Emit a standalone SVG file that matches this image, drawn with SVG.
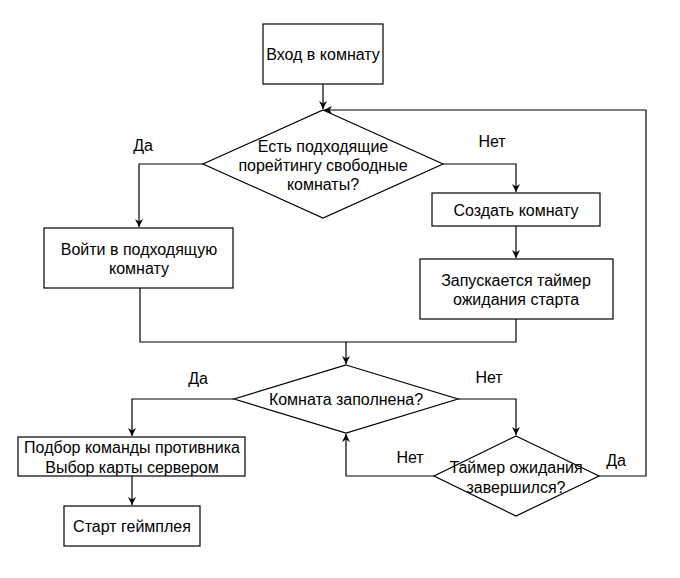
<svg xmlns="http://www.w3.org/2000/svg" width="680" height="578" viewBox="0 0 680 578">
<style>
.n{fill:#fff;stroke:#000;stroke-width:1.2}
.c{fill:none;stroke:#000;stroke-width:1.2}
text{font-family:"Liberation Sans",Arial,sans-serif;font-size:16px;fill:#000;text-anchor:middle;dominant-baseline:central}
</style>
<defs>
<marker id="a" viewBox="0 0 10 10" refX="10" refY="5" markerWidth="8" markerHeight="8" markerUnits="userSpaceOnUse" orient="auto">
<path d="M0,0 L10,5 L0,10 L3,5 Z" fill="#000"/>
</marker>
</defs>
<rect width="680" height="578" fill="#fff"/>
<g id="connectors">
<path class="c" d="M323,84 V109" marker-end="url(#a)"/>
<path class="c" d="M203,164 H139 V227" marker-end="url(#a)"/>
<path class="c" d="M443,164 H516 V192" marker-end="url(#a)"/>
<path class="c" d="M516,226 V258" marker-end="url(#a)"/>
<path class="c" d="M140,288 V342 H346"/>
<path class="c" d="M516,319 V342 H346 V364" marker-end="url(#a)"/>
<path class="c" d="M234,399 H132 V436" marker-end="url(#a)"/>
<path class="c" d="M132,476 V505" marker-end="url(#a)"/>
<path class="c" d="M458,399 H516 V435" marker-end="url(#a)"/>
<path class="c" d="M434,476 H346 V434" marker-end="url(#a)"/>
<path class="c" d="M599,476 H646 V110 H324" marker-end="url(#a)"/>
<text x="143" y="145">Да</text>
<text x="492" y="141">Нет</text>
<text x="198" y="378">Да</text>
<text x="489" y="377">Нет</text>
<text x="410" y="457">Нет</text>
<text x="616" y="460">Да</text>
</g>
<g id="enter">
<rect class="n" x="263" y="24" width="120" height="60"/>
<text x="323" y="54">Вход в комнату</text>
</g>
<g id="check-rooms">
<polygon class="n" points="323,110 443,164 323,218 203,164"/>
<text x="323" y="146">Есть подходящие</text>
<text x="323" y="165">порейтингу свободные</text>
<text x="323" y="184">комнаты?</text>
</g>
<g id="join-room">
<rect class="n" x="44" y="228" width="189" height="60"/>
<text x="139" y="249">Войти в подходящую</text>
<text x="139" y="268">комнату</text>
</g>
<g id="create-room">
<rect class="n" x="432" y="193" width="168" height="33"/>
<text x="516" y="210">Создать комнату</text>
</g>
<g id="start-timer">
<rect class="n" x="420" y="259" width="193" height="60"/>
<text x="516" y="280">Запускается таймер</text>
<text x="516" y="299">ожидания старта</text>
</g>
<g id="room-full">
<polygon class="n" points="346,365 458,399 346,433 234,399"/>
<text x="346" y="399">Комната заполнена?</text>
</g>
<g id="matchmaking">
<rect class="n" x="18" y="437" width="227" height="39"/>
<text x="132" y="447">Подбор команды противника</text>
<text x="132" y="467">Выбор карты сервером</text>
</g>
<g id="gameplay">
<rect class="n" x="64" y="506" width="136" height="40"/>
<text x="132" y="526">Старт геймплея</text>
</g>
<g id="timer-done">
<polygon class="n" points="516,436 599,476 516,516 434,476"/>
<text x="516" y="467">Таймер ожидания</text>
<text x="516" y="487">завершился?</text>
</g>
</svg>
